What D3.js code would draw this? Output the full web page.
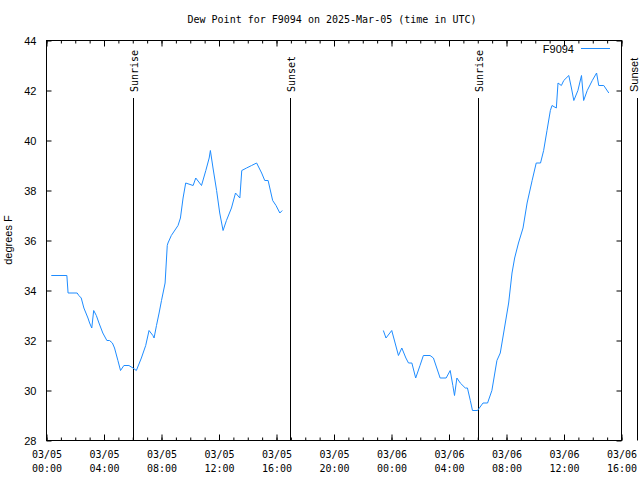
<!DOCTYPE html>
<html><head><meta charset="utf-8">
<script src="https://cdn.jsdelivr.net/npm/d3@7"></script>
<style>body{margin:0;background:#fff}svg{display:block}</style>
</head><body>
<svg id="c" width="640" height="480"></svg>
<script>
const titleText = "Dew Point for F9094 on 2025-Mar-05 (time in UTC)";
const seriesName = "F9094";
const yLabel = "degrees F";
const times = [
"2025-03-05 00:20","2025-03-05 01:25","2025-03-05 01:30","2025-03-05 02:08","2025-03-05 02:15","2025-03-05 02:25",
"2025-03-05 02:36","2025-03-05 02:53","2025-03-05 03:00","2025-03-05 03:09","2025-03-05 03:17","2025-03-05 03:28",
"2025-03-05 03:39","2025-03-05 03:55","2025-03-05 04:12","2025-03-05 04:23","2025-03-05 04:35","2025-03-05 04:44",
"2025-03-05 04:58","2025-03-05 05:09","2025-03-05 05:23","2025-03-05 05:44","2025-03-05 06:01","2025-03-05 06:15",
"2025-03-05 06:36","2025-03-05 06:54","2025-03-05 07:08","2025-03-05 07:24","2025-03-05 07:29","2025-03-05 07:39",
"2025-03-05 07:50","2025-03-05 08:00","2025-03-05 08:15","2025-03-05 08:24","2025-03-05 08:27","2025-03-05 08:41",
"2025-03-05 09:09","2025-03-05 09:19","2025-03-05 09:30","2025-03-05 09:41","2025-03-05 10:12","2025-03-05 10:23",
"2025-03-05 10:47","2025-03-05 11:05","2025-03-05 11:19","2025-03-05 11:24","2025-03-05 11:35","2025-03-05 11:50",
"2025-03-05 12:03","2025-03-05 12:17","2025-03-05 12:31","2025-03-05 12:52","2025-03-05 13:09","2025-03-05 13:27",
"2025-03-05 13:35","2025-03-05 13:55","2025-03-05 14:16","2025-03-05 14:37","2025-03-05 14:58","2025-03-05 15:11",
"2025-03-05 15:25","2025-03-05 15:44","2025-03-05 15:58","2025-03-05 16:14","2025-03-05 16:24",
"2025-03-05 20:00",
"2025-03-05 23:26","2025-03-05 23:37","2025-03-06 00:01","2025-03-06 00:15","2025-03-06 00:29","2025-03-06 00:43",
"2025-03-06 01:00","2025-03-06 01:11","2025-03-06 01:25","2025-03-06 01:41","2025-03-06 01:59","2025-03-06 02:13",
"2025-03-06 02:41","2025-03-06 02:55","2025-03-06 03:09","2025-03-06 03:23","2025-03-06 03:48","2025-03-06 04:05",
"2025-03-06 04:16","2025-03-06 04:23","2025-03-06 04:33","2025-03-06 04:47","2025-03-06 05:08","2025-03-06 05:17",
"2025-03-06 05:29","2025-03-06 05:38","2025-03-06 05:59","2025-03-06 06:22","2025-03-06 06:41","2025-03-06 06:59",
"2025-03-06 07:20","2025-03-06 07:34","2025-03-06 07:48","2025-03-06 08:09","2025-03-06 08:23","2025-03-06 08:34",
"2025-03-06 08:50","2025-03-06 09:09","2025-03-06 09:26","2025-03-06 09:47","2025-03-06 10:04","2025-03-06 10:22",
"2025-03-06 10:35","2025-03-06 10:49","2025-03-06 11:03","2025-03-06 11:10","2025-03-06 11:28","2025-03-06 11:35",
"2025-03-06 11:49","2025-03-06 11:59","2025-03-06 12:20","2025-03-06 12:31","2025-03-06 12:41","2025-03-06 12:58",
"2025-03-06 13:13","2025-03-06 13:22","2025-03-06 13:37","2025-03-06 13:58","2025-03-06 14:16","2025-03-06 14:25",
"2025-03-06 14:46","2025-03-06 15:07"
];
const dewpoint = [
34.6,34.6,33.9,33.9,33.8,33.7,
33.3,32.9,32.7,32.5,33.2,33.0,
32.7,32.3,32.0,32.0,31.9,31.7,
31.2,30.8,31.0,31.0,30.9,30.8,
31.3,31.8,32.4,32.2,32.1,32.6,
33.1,33.6,34.3,35.8,35.9,36.2,
36.6,36.9,37.7,38.3,38.2,38.5,
38.2,38.8,39.3,39.6,38.9,38.0,
37.1,36.4,36.8,37.3,37.9,37.7,
38.8,38.9,39.0,39.1,38.7,38.4,
38.4,37.6,37.4,37.1,37.2,
null,
32.4,32.1,32.4,31.9,31.4,31.7,
31.3,31.1,31.1,30.5,31.0,31.4,
31.4,31.3,30.9,30.5,30.5,30.8,
30.2,29.8,30.5,30.3,30.1,30.1,
29.6,29.2,29.2,29.5,29.5,30.0,
31.2,31.5,32.3,33.5,34.7,35.3,
35.9,36.5,37.5,38.4,39.1,39.1,
39.6,40.4,41.2,41.4,41.3,42.3,
42.2,42.4,42.6,42.1,41.6,42.0,
42.6,41.6,42.0,42.4,42.7,42.2,
42.2,41.9
];
const sunLabels = ["Sunrise","Sunset","Sunrise","Sunset"];
const sunTimes = ["2025-03-05 06:02","2025-03-05 16:58","2025-03-06 06:00","2025-03-06 17:05"];
const xStart = "2025-03-05 00:00", xEnd = "2025-03-06 16:00";
const yTicks = [28,30,32,34,36,38,40,42,44];

const parse = d3.utcParse("%Y-%m-%d %H:%M");
const data = times.map((t,i)=>({t:parse(t), v:dewpoint[i]}));
const svg = d3.select("#c");
const L=46.5, R=621.5, T=40.5, B=440.5;
const x = d3.scaleUtc().domain([parse(xStart), parse(xEnd)]).range([L,R]);
const y = d3.scaleLinear().domain([28,44]).range([B,T]);
const mono = "'DejaVu Sans Mono', monospace";
const sans = "'Liberation Sans', Arial, sans-serif";

// title
svg.append("text").attr("x",332).attr("y",23).attr("text-anchor","middle")
  .style("font-family",mono).style("font-size","10px").text(titleText);

const majors = d3.utcHour.every(4).range(parse(xStart), d3.utcMinute.offset(parse(xEnd),1));
const minors = d3.utcHour.every(1).range(parse(xStart), d3.utcMinute.offset(parse(xEnd),1));

// minor ticks bottom/top
svg.append("g").attr("transform",`translate(0,${B})`)
  .call(d3.axisBottom(x).tickValues(minors).tickSizeInner(-3).tickSizeOuter(0).tickFormat(""))
  .call(g=>g.select(".domain").remove());
svg.append("g").attr("transform",`translate(0,${T})`)
  .call(d3.axisTop(x).tickValues(minors).tickSizeInner(-3).tickSizeOuter(0).tickFormat(""))
  .call(g=>g.select(".domain").remove());
// major ticks
const fmt1 = d3.utcFormat("%m/%d"), fmt2 = d3.utcFormat("%H:%M");
svg.append("g").attr("transform",`translate(0,${B})`)
  .call(d3.axisBottom(x).tickValues(majors).tickSizeInner(-6).tickSizeOuter(0).tickPadding(8).tickFormat(""))
  .call(g=>g.select(".domain").remove())
  .call(g=>g.selectAll(".tick").append("text").attr("fill","#000")
     .style("font-family",mono).style("font-size","10px").attr("text-anchor","middle")
     .each(function(d){
        const t=d3.select(this);
        t.append("tspan").attr("x",0).attr("y",17).text(fmt1(d));
        t.append("tspan").attr("x",0).attr("y",31).text(fmt2(d));
     }));
svg.append("g").attr("transform",`translate(0,${T})`)
  .call(d3.axisTop(x).tickValues(majors).tickSizeInner(-6).tickSizeOuter(0).tickFormat(""))
  .call(g=>g.select(".domain").remove());
// y axes
svg.append("g").attr("transform",`translate(${L},0)`)
  .call(d3.axisLeft(y).tickValues(yTicks).tickSizeInner(-5).tickSizeOuter(0).tickPadding(10).tickFormat(d3.format("d")))
  .call(g=>g.select(".domain").remove())
  .call(g=>g.selectAll("text").style("font-family",sans).style("font-size","11px"));
svg.append("g").attr("transform",`translate(${R},0)`)
  .call(d3.axisRight(y).tickValues(yTicks).tickSizeInner(-5).tickSizeOuter(0).tickFormat(""))
  .call(g=>g.select(".domain").remove());
// frame
svg.append("rect").attr("x",L).attr("y",T).attr("width",R-L).attr("height",B-T)
  .attr("fill","none").attr("stroke","#000");

// y label
svg.append("text").attr("transform",`translate(12,${240}) rotate(-90)`).attr("text-anchor","middle")
  .style("font-family",sans).style("font-size","11px").text(yLabel);

// sun lines
sunTimes.forEach((s,i)=>{
  const xs = Math.round(x(parse(s)))+0.5;
  svg.append("line").attr("x1",xs).attr("x2",xs).attr("y1",98).attr("y2",B).attr("stroke","#000");
  const tx = Math.min(xs+1, 634);
  svg.append("text").attr("transform",`translate(${tx},92) rotate(-90)`)
    .attr("dy","0.35em")
    .style("font-family", i===3 ? sans : mono).style("font-size", i===3 ? "11px":"10px")
    .text(sunLabels[i]);
});

// data line
const line = d3.line().defined(d=>d.v!==null).x(d=>x(d.t)).y(d=>y(d.v));
svg.append("path").datum(data).attr("d",line).attr("fill","none")
  .attr("stroke","#1e8cff").attr("stroke-width",1);

// legend
svg.append("text").attr("x",574).attr("y",53).attr("text-anchor","end")
  .style("font-family",sans).style("font-size","11px").text(seriesName);
svg.append("line").attr("x1",581).attr("x2",610).attr("y1",48.5).attr("y2",48.5)
  .attr("stroke","#1e8cff");
</script>
</body></html>
